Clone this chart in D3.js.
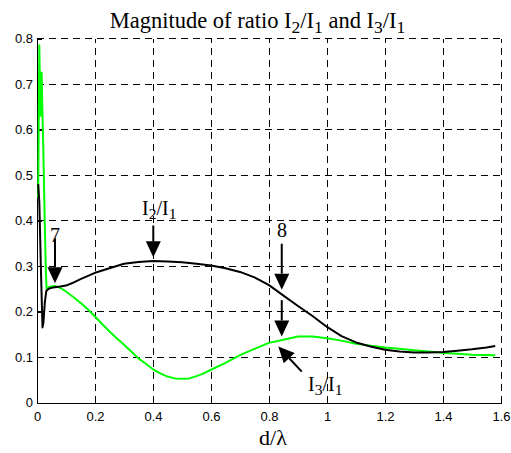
<!DOCTYPE html>
<html><head><meta charset="utf-8">
<script src="https://cdn.jsdelivr.net/npm/d3@7"></script>
<style>body{margin:0;background:#fff}svg{display:block}</style>
</head><body>
<svg id="c" width="511" height="453"></svg>
<script>
// ---- data ----
const xTicks = [0, 0.2, 0.4, 0.6, 0.8, 1, 1.2, 1.4, 1.6];
const xTickLabels = ["0", "0.2", "0.4", "0.6", "0.8", "1", "1.2", "1.4", "1.6"];
const yTicks = [0, 0.1, 0.2, 0.3, 0.4, 0.5, 0.6, 0.7, 0.8];
const yTickLabels = ["0", "0.1", "0.2", "0.3", "0.4", "0.5", "0.6", "0.7", "0.8"];

const i2x = [0.004, 0.008, 0.014, 0.019, 0.022, 0.027, 0.032, 0.04, 0.056, 0.08, 0.1, 0.12, 0.15, 0.2, 0.25, 0.3, 0.35, 0.4, 0.45, 0.5, 0.55, 0.6, 0.65, 0.7, 0.75, 0.8, 0.85, 0.9, 0.95, 1.0, 1.05, 1.1, 1.15, 1.2, 1.25, 1.3, 1.35, 1.4, 1.45, 1.5, 1.55, 1.58];
const i2y = [0.48, 0.44, 0.28, 0.165, 0.175, 0.22, 0.245, 0.25, 0.253, 0.255, 0.257, 0.262, 0.271, 0.285, 0.295, 0.305, 0.309, 0.311, 0.31, 0.308, 0.305, 0.301, 0.295, 0.287, 0.275, 0.258, 0.235, 0.212, 0.19, 0.166, 0.146, 0.132, 0.123, 0.116, 0.112, 0.110, 0.110, 0.111, 0.114, 0.117, 0.121, 0.124];

const i3x = [0.004, 0.007, 0.008, 0.010, 0.012, 0.014, 0.016, 0.018, 0.022, 0.026, 0.030, 0.033, 0.045, 0.062, 0.08, 0.1, 0.125, 0.15, 0.175, 0.2, 0.225, 0.25, 0.275, 0.3, 0.325, 0.35, 0.375, 0.4, 0.425, 0.45, 0.475, 0.5, 0.525, 0.55, 0.575, 0.6, 0.65, 0.7, 0.75, 0.8, 0.85, 0.9, 0.95, 1.0, 1.05, 1.1, 1.15, 1.2, 1.25, 1.3, 1.35, 1.4, 1.45, 1.5, 1.58];
const i3y = [0.45, 0.70, 0.785, 0.70, 0.63, 0.70, 0.725, 0.66, 0.55, 0.42, 0.30, 0.25, 0.255, 0.256, 0.252, 0.244, 0.232, 0.219, 0.205, 0.189, 0.172, 0.156, 0.141, 0.127, 0.112, 0.097, 0.085, 0.073, 0.064, 0.057, 0.053, 0.052, 0.053, 0.058, 0.064, 0.072, 0.087, 0.104, 0.118, 0.131, 0.138, 0.145, 0.145, 0.141, 0.136, 0.129, 0.125, 0.121, 0.118, 0.115, 0.112, 0.109, 0.107, 0.105, 0.104];

// annotations in data coordinates: [x, yTop, yTip]
const arrowsV = [[0.062, 0.361, 0.262], [0.401, 0.389, 0.319], [0.844, 0.349, 0.248], [0.844, 0.225, 0.145]];
const arrowsD = [[0.913, 0.068, 0.832, 0.123]];

// ---- layout ----
const svg = d3.select("#c");
const x = d3.scaleLinear().domain([0, 1.6]).range([37, 501]);
const y = d3.scaleLinear().domain([0, 0.8]).range([402.5, 38.5]);
const sans = "'Liberation Sans', Arial, sans-serif";
const serif = "'Liberation Serif', 'Times New Roman', serif";

// grid
const g = svg.append("g");
g.selectAll("line.vg").data(xTicks.filter(d => d > 0)).join("line")
  .attr("x1", d => x(d)).attr("x2", d => x(d)).attr("y1", y(0)).attr("y2", y(0.8))
  .attr("stroke", "#000").attr("stroke-width", 1).attr("stroke-dasharray", "7,5").attr("shape-rendering", "crispEdges");
g.selectAll("line.hg").data(yTicks.filter(d => d > 0)).join("line")
  .attr("y1", d => y(d)).attr("y2", d => y(d)).attr("x1", x(0)).attr("x2", x(1.6))
  .attr("stroke", "#000").attr("stroke-width", 1).attr("stroke-dasharray", "7,5").attr("shape-rendering", "crispEdges");

// axes
const xAxis = d3.axisBottom(x).tickValues(xTicks).tickFormat((d, i) => xTickLabels[i]).tickSizeInner(-5).tickSizeOuter(0).tickPadding(9);
const yAxis = d3.axisLeft(y).tickValues(yTicks).tickFormat((d, i) => yTickLabels[i]).tickSizeInner(-5).tickSizeOuter(0).tickPadding(4);
const gx = svg.append("g").attr("transform", `translate(0,${y(0)})`).call(xAxis);
const gy = svg.append("g").attr("transform", `translate(${x(0)},0)`).call(yAxis);
[gx, gy].forEach(a => {
  a.selectAll("path,line").attr("stroke", "#000").attr("stroke-width", 1).attr("shape-rendering", "crispEdges");
  a.selectAll("text").attr("font-family", sans).attr("font-size", 13).attr("fill", "#000");
});

// lines
const line = d3.line().x(d => x(d[0])).y(d => y(d[1]));
svg.append("path").datum(i3x.map((v, i) => [v, i3y[i]])).attr("d", line)
  .attr("fill", "none").attr("stroke", "#00ff00").attr("stroke-width", 2).attr("stroke-linejoin", "round");
svg.append("path").datum(i2x.map((v, i) => [v, i2y[i]])).attr("d", line)
  .attr("fill", "none").attr("stroke", "#000").attr("stroke-width", 2).attr("stroke-linejoin", "round");

// arrows
function arrow(x1, y1, x2, y2) {
  const dx = x2 - x1, dy = y2 - y1, L = Math.hypot(dx, dy), ux = dx / L, uy = dy / L;
  const hl = 16, hw = 7.5;
  const bx = x2 - ux * hl, by = y2 - uy * hl;
  svg.append("line").attr("x1", x1).attr("y1", y1).attr("x2", bx).attr("y2", by)
    .attr("stroke", "#000").attr("stroke-width", 2);
  svg.append("path").attr("d", `M${x2},${y2}L${bx - uy * hw},${by + ux * hw}L${bx + uy * hw},${by - ux * hw}Z`).attr("fill", "#000");
}
arrowsV.forEach(a => arrow(x(a[0]), y(a[1]), x(a[0]), y(a[2])));
arrowsD.forEach(a => arrow(x(a[0]), y(a[1]), x(a[2]), y(a[3])));

// text with subscripts
function subText(px, py, parts, size, anchor, sub) {
  const t = svg.append("text").attr("x", px).attr("y", py).attr("font-family", serif)
    .attr("font-size", size).attr("text-anchor", anchor).attr("fill", "#000");
  let shifted = false;
  parts.forEach(p => {
    const isSub = p.startsWith("_");
    const s = t.append("tspan").text(isSub ? p.slice(1) : p);
    if (isSub) { s.attr("font-size", size * sub); if (!shifted) { s.attr("dy", size * 0.2); shifted = true; } }
    else if (shifted) { s.attr("dy", -size * 0.2); shifted = false; }
  });
  return t;
}
subText(257.5, 28, ["Magnitude of ratio I", "_2", "/I", "_1", " and I", "_3", "/I", "_1"], 22.5, "middle", 0.78);
subText(55, 242, ["7"], 20, "middle", 0.75);
subText(142, 215, ["I", "_2", "/I", "_1"], 20, "start", 0.78);
subText(282, 237, ["8"], 20, "middle", 0.75);
subText(308, 391, ["I", "_3", "/I", "_1"], 20, "start", 0.78);
svg.append("text").attr("x", 273).attr("y", 445).attr("text-anchor", "middle")
  .attr("font-family", serif).attr("font-size", 22).text("d/λ");
</script>
</body></html>
